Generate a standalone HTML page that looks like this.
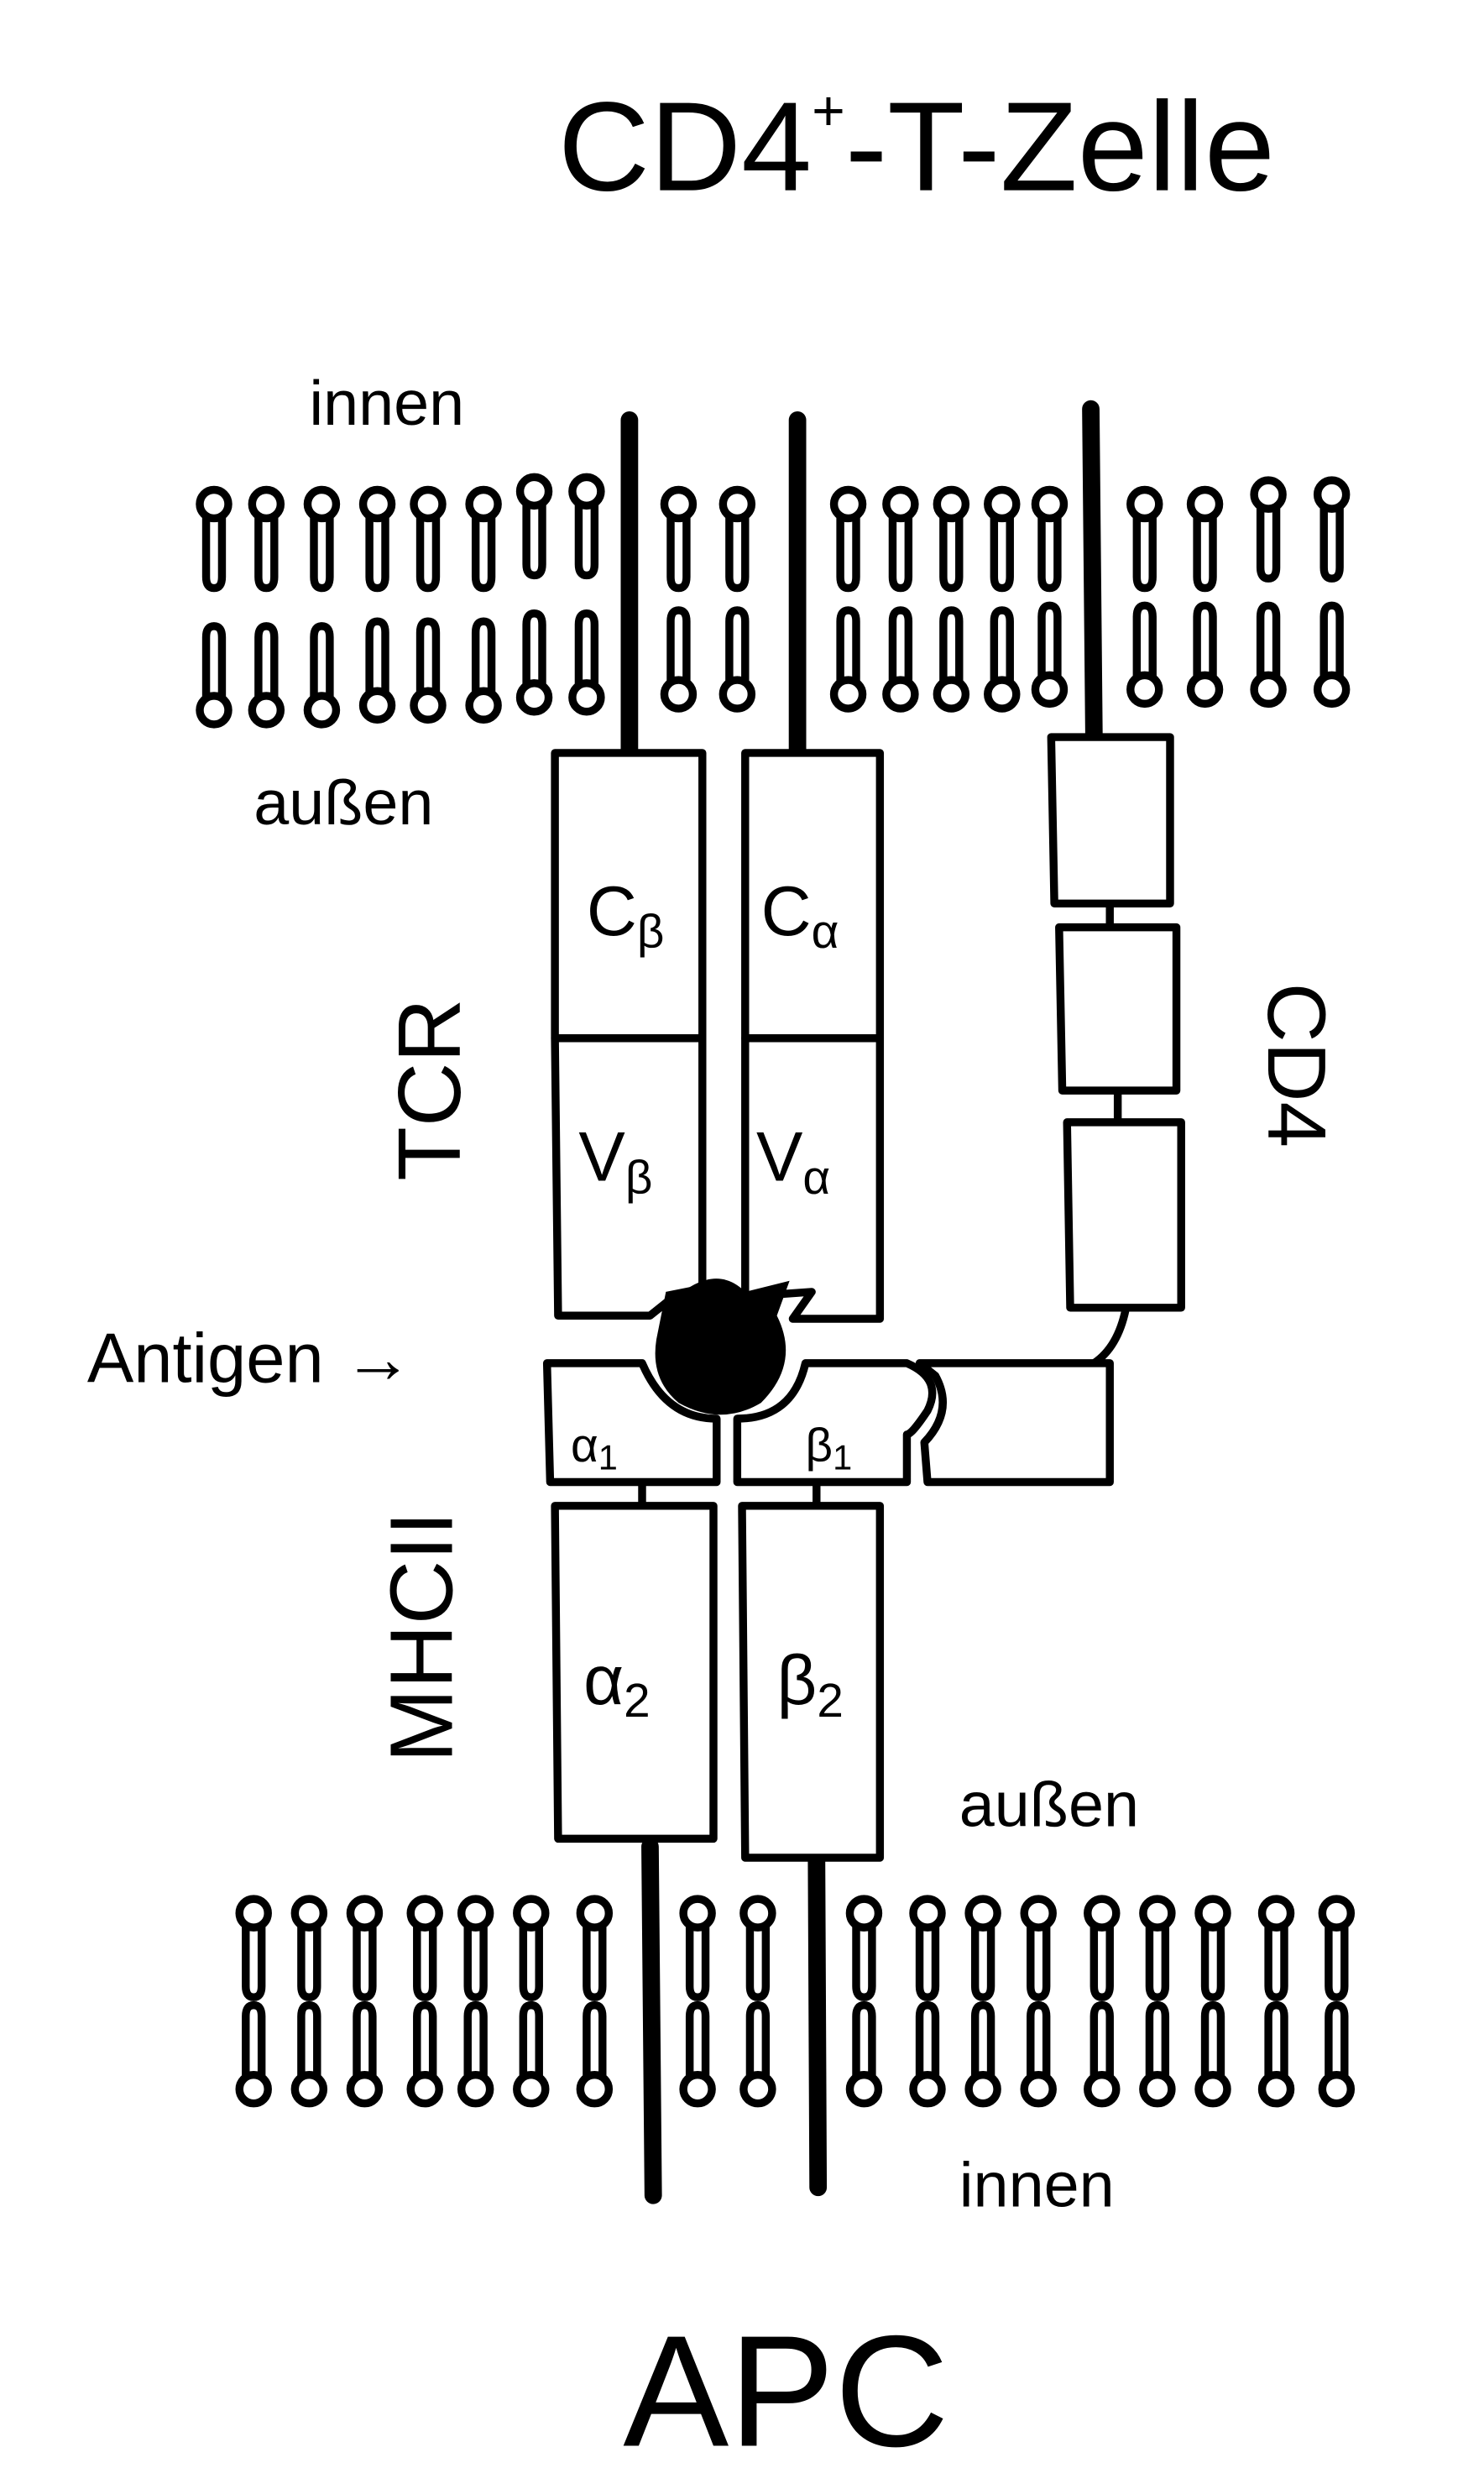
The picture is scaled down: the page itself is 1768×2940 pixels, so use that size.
<!DOCTYPE html>
<html><head><meta charset="utf-8"><style>
html,body{margin:0;padding:0;background:#fff}
svg{display:block}
text{font-family:"Liberation Sans",sans-serif;fill:#000}
</style></head><body>
<svg width="1768" height="2940" viewBox="0 0 936 1557" preserveAspectRatio="none" xmlns="http://www.w3.org/2000/svg">
<defs>
<g id="lu"><path d="M-5,8 V46 Q-5,53 0,53 Q5,53 5,46 V8" stroke="#000" stroke-width="5" stroke-linecap="round" fill="none"/><circle cx="0" cy="0" r="9" fill="#fff" stroke="#000" stroke-width="5"/></g>
<g id="ld"><path d="M-5,-8 V-46 Q-5,-53 0,-53 Q5,-53 5,-46 V-8" stroke="#000" stroke-width="5" stroke-linecap="round" fill="none"/><circle cx="0" cy="0" r="9" fill="#fff" stroke="#000" stroke-width="5"/></g>
</defs>
<rect width="936" height="1557" fill="#fff"/>
<text x="352" y="120" font-size="80">CD4<tspan font-size="36" dy="-38">+</tspan><tspan dy="38">-T-Zelle</tspan></text>
<text x="195" y="268" font-size="40">innen</text>
<text x="160" y="520" font-size="40">außen</text>
<g stroke="#000" stroke-width="11" stroke-linecap="round">
<line x1="397" y1="265" x2="397" y2="478"/>
<line x1="503" y1="265" x2="503" y2="478"/>
<line x1="688" y1="258" x2="690" y2="465"/>
<line x1="410" y1="1165" x2="412" y2="1385"/>
<line x1="515" y1="1170" x2="516" y2="1380"/>
</g>
<g>
<use href="#lu" x="135" y="318"/><use href="#lu" x="168" y="318"/><use href="#lu" x="203" y="318"/><use href="#lu" x="238" y="318"/><use href="#lu" x="270" y="318"/><use href="#lu" x="305" y="318"/><use href="#lu" x="337" y="310"/><use href="#lu" x="370" y="310"/><use href="#lu" x="428" y="318"/><use href="#lu" x="465" y="318"/><use href="#lu" x="535" y="318"/><use href="#lu" x="568" y="318"/><use href="#lu" x="600" y="318"/><use href="#lu" x="632" y="318"/><use href="#lu" x="662" y="318"/><use href="#lu" x="722" y="318"/><use href="#lu" x="760" y="318"/><use href="#lu" x="800" y="312"/><use href="#lu" x="840" y="312"/>
<use href="#ld" x="135" y="448"/><use href="#ld" x="168" y="448"/><use href="#ld" x="203" y="448"/><use href="#ld" x="238" y="445"/><use href="#ld" x="270" y="445"/><use href="#ld" x="305" y="445"/><use href="#ld" x="337" y="440"/><use href="#ld" x="370" y="440"/><use href="#ld" x="428" y="438"/><use href="#ld" x="465" y="438"/><use href="#ld" x="535" y="438"/><use href="#ld" x="568" y="438"/><use href="#ld" x="600" y="438"/><use href="#ld" x="632" y="438"/><use href="#ld" x="662" y="435"/><use href="#ld" x="722" y="435"/><use href="#ld" x="760" y="435"/><use href="#ld" x="800" y="435"/><use href="#ld" x="840" y="435"/>
</g>
<g>
<use href="#lu" x="160" y="1207"/><use href="#lu" x="195" y="1207"/><use href="#lu" x="230" y="1207"/><use href="#lu" x="268" y="1207"/><use href="#lu" x="300" y="1207"/><use href="#lu" x="335" y="1207"/><use href="#lu" x="375" y="1207"/><use href="#lu" x="440" y="1207"/><use href="#lu" x="478" y="1207"/><use href="#lu" x="545" y="1207"/><use href="#lu" x="585" y="1207"/><use href="#lu" x="620" y="1207"/><use href="#lu" x="655" y="1207"/><use href="#lu" x="695" y="1207"/><use href="#lu" x="730" y="1207"/><use href="#lu" x="765" y="1207"/><use href="#lu" x="805" y="1207"/><use href="#lu" x="843" y="1207"/>
<use href="#ld" x="160" y="1318"/><use href="#ld" x="195" y="1318"/><use href="#ld" x="230" y="1318"/><use href="#ld" x="268" y="1318"/><use href="#ld" x="300" y="1318"/><use href="#ld" x="335" y="1318"/><use href="#ld" x="375" y="1318"/><use href="#ld" x="440" y="1318"/><use href="#ld" x="478" y="1318"/><use href="#ld" x="545" y="1318"/><use href="#ld" x="585" y="1318"/><use href="#ld" x="620" y="1318"/><use href="#ld" x="655" y="1318"/><use href="#ld" x="695" y="1318"/><use href="#ld" x="730" y="1318"/><use href="#ld" x="765" y="1318"/><use href="#ld" x="805" y="1318"/><use href="#ld" x="843" y="1318"/>
</g>
<g fill="#fff" stroke="#000" stroke-width="5" stroke-linejoin="round">
<path d="M350,475 H443 V655 H350 Z"/>
<path d="M350,655 H443 V812 L425,818 L410,830 H352 Z"/>
<path d="M470,475 H555 V655 H470 Z"/>
<path d="M470,655 H555 V832 H500 L512,815 L470,818 Z"/>
<path d="M663,465 H738 V570 H665 Z"/>
<path d="M668,585 H742 V688 H670 Z"/>
<path d="M673,708 H745 V825 H675 Z"/>
<path d="M345,860 H405 Q420,895 452,895 V935 H347 Z"/>
<path d="M465,895 Q500,895 508,860 H572 Q595,870 585,890 Q575,905 572,905 V935 H465 Z"/>
<path d="M580,860 H700 V935 H585 L583,910 Q602,890 590,868 Z"/>
<path d="M350,950 H450 V1160 H352 Z"/>
<path d="M468,950 H555 V1172 H470 Z"/>
</g>
<g stroke="#000" stroke-width="5" fill="none">
<line x1="700" y1="572" x2="700" y2="585"/>
<line x1="705" y1="690" x2="705" y2="708"/>
<path d="M710,826 Q705,850 690,860"/>
<line x1="405" y1="935" x2="405" y2="950"/>
<line x1="515" y1="935" x2="515" y2="950"/>
</g>
<path d="M420,815 L435,812 Q455,800 470,815 L498,808 L490,830 Q505,860 480,885 Q455,900 428,885 Q410,870 414,845 Z" fill="#000"/>
<g font-size="44">
<text x="370" y="590">C<tspan font-size="30" dy="8">β</tspan></text>
<text x="480" y="590">C<tspan font-size="30" dy="8">α</tspan></text>
<text x="365" y="745">V<tspan font-size="30" dy="8">β</tspan></text>
<text x="477" y="745">V<tspan font-size="30" dy="8">α</tspan></text>
<text x="368" y="1075">α<tspan font-size="30" dy="8">2</tspan></text>
<text x="490" y="1075">β<tspan font-size="30" dy="8">2</tspan></text>
</g>
<text x="360" y="922" font-size="30">α<tspan font-size="22" dy="5">1</tspan></text>
<text x="508" y="922" font-size="30">β<tspan font-size="22" dy="5">1</tspan></text>
<text font-size="56" transform="translate(290,745) rotate(-90)">TCR</text>
<text font-size="52" transform="translate(800,620) rotate(90)">CD4</text>
<text font-size="56" transform="translate(285,1112) rotate(-90)">MHCII</text>
<text x="55" y="872" font-size="44">Antigen →</text>
<text x="605" y="1152" font-size="40">außen</text>
<text x="605" y="1392" font-size="40">innen</text>
<text x="393" y="1543" font-size="100">APC</text>
</svg>
</body></html>
